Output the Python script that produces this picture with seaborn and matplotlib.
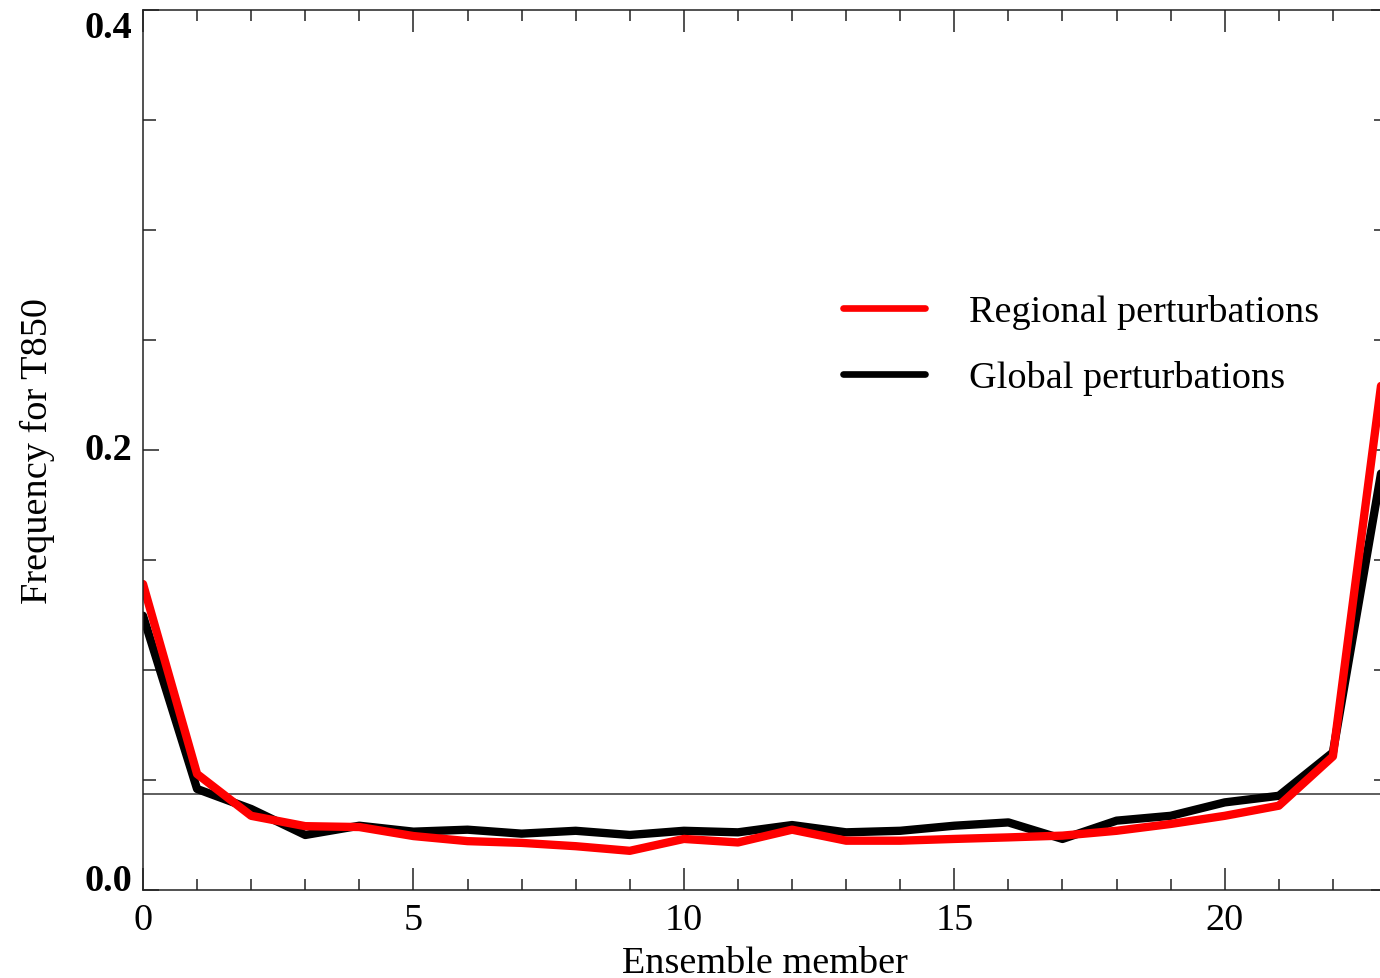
import numpy as np
import pandas as pd
import seaborn as sns
import matplotlib.pyplot as plt
from matplotlib.ticker import MultipleLocator

# --- DATA ---
members = list(range(24))
regional = [0.139, 0.0527, 0.0337, 0.0290, 0.0286, 0.0245, 0.0222, 0.0214,
            0.0199, 0.0178, 0.0232, 0.0216, 0.0274, 0.0224, 0.0224, 0.0232,
            0.0239, 0.0247, 0.0269, 0.0300, 0.0337, 0.0383, 0.0607, 0.250]
global_ = [0.1246, 0.0459, 0.0368, 0.0250, 0.0292, 0.0265, 0.0274, 0.0256,
           0.0269, 0.0250, 0.0269, 0.0262, 0.0295, 0.0262, 0.0269, 0.0292,
           0.0307, 0.0232, 0.0315, 0.0337, 0.0398, 0.0428, 0.0625, 0.205]
uniform_level = 1 / 23

x_ticks = [0, 5, 10, 15, 20]
y_ticks = [0.0, 0.2, 0.4]
y_ticklabels = ["0.0", "0.2", "0.4"]

df = pd.DataFrame({"member": members, "regional": regional, "global": global_})

# --- STYLE ---
sns.set_theme(style="ticks")
plt.rcParams["font.family"] = ["Liberation Serif", "DejaVu Serif"]
plt.rcParams["text.color"] = "black"
plt.rcParams["xtick.labelcolor"] = "black"
plt.rcParams["ytick.labelcolor"] = "black"
plt.rcParams["axes.labelcolor"] = "black"
FS = 27.5

fig = plt.figure(figsize=(13.8, 9.79), dpi=100)
ax = fig.add_axes([143 / 1380, 88 / 979, 1244 / 1380, 880.5 / 979])

# black first so the red line sits on top
sns.lineplot(data=df, x="member", y="global", ax=ax, color="black",
             linewidth=6, label="Global perturbations")
sns.lineplot(data=df, x="member", y="regional", ax=ax, color="#ff0000",
             linewidth=6, label="Regional perturbations")
ax.axhline(uniform_level, color="#333333", linewidth=1.1, zorder=1)

ax.set_xlim(0, 23)
ax.set_ylim(0, 0.4)
ax.set_xticks(x_ticks)
ax.set_xticklabels([str(t) for t in x_ticks], fontsize=FS)
ax.set_yticks(y_ticks)
ax.set_yticklabels(y_ticklabels, fontsize=FS, fontweight="bold")
ax.xaxis.set_minor_locator(MultipleLocator(1))
ax.yaxis.set_minor_locator(MultipleLocator(0.05))

ax.tick_params(axis="x", which="major", direction="in", length=15.5, width=1.1,
               color="#222222", top=True, pad=9)
ax.tick_params(axis="x", which="minor", direction="in", length=8, width=1.1,
               color="#222222", top=True)
ax.tick_params(axis="y", which="major", direction="in", length=11.5, width=1.1,
               color="#222222", right=True, pad=8)
ax.tick_params(axis="y", which="minor", direction="in", length=9.4, width=1.1,
               color="#222222", right=True)

labels = ax.get_yticklabels()
labels[0].set_va("baseline")
labels[1].set_va("center")
labels[2].set_va("top")

for s in ax.spines.values():
    s.set_color("#222222")
    s.set_linewidth(1.1)

ax.set_xlabel("Ensemble member", fontsize=FS)
ax.set_ylabel("Frequency for T850", fontsize=FS)
ax.xaxis.set_label_coords(0.5, -0.0636)
ax.yaxis.set_label_coords(-0.071, 0.5)

handles, labs = ax.get_legend_handles_labels()
leg = ax.legend(handles[::-1], labs[::-1], loc="upper left",
                bbox_to_anchor=(843 / 1380, 1 - 295 / 979),
                bbox_transform=fig.transFigure, frameon=False, fontsize=FS,
                handlelength=2.15, handletextpad=1.15, labelspacing=0.82,
                borderpad=0, borderaxespad=0)
for ln in leg.get_lines():
    ln.set_linewidth(4.8)

fig.savefig("out.png", dpi=100)
